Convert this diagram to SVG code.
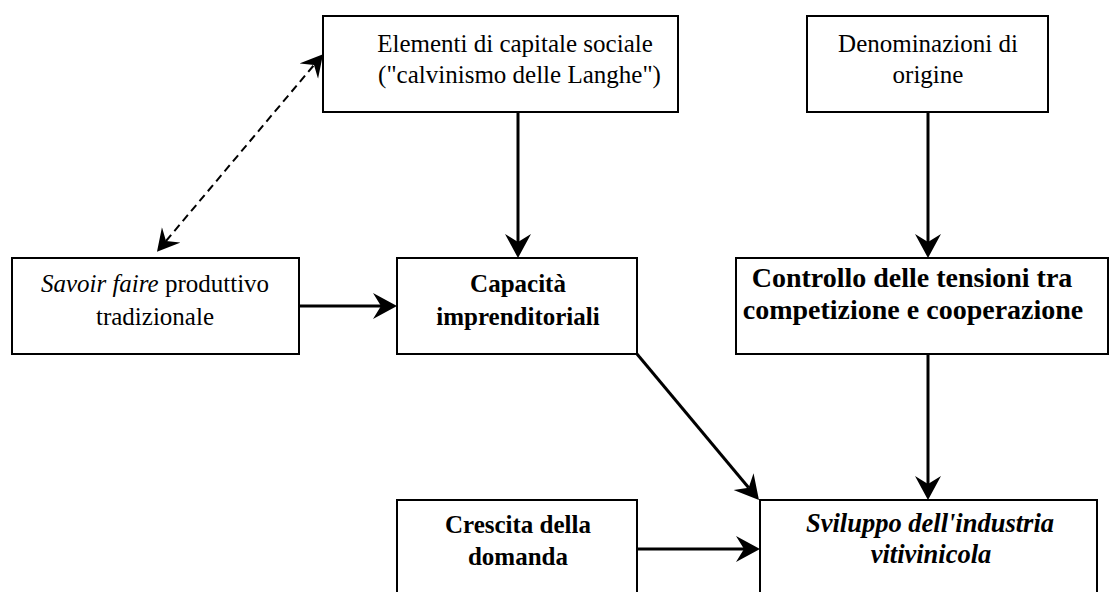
<svg xmlns="http://www.w3.org/2000/svg" width="1110" height="592" viewBox="0 0 1110 592">
<style>
.box{fill:#fff;stroke:#000;stroke-width:2}
.t{font-family:'Liberation Serif','Tinos','Times New Roman','DejaVu Serif',serif;font-size:25px;fill:#000;text-anchor:middle}
.b{font-weight:bold}
.i{font-style:italic}
.c{stroke:#000;stroke-width:3;fill:none}
.d{stroke:#000;stroke-width:2;fill:none;stroke-dasharray:8 5}
</style>
<defs>
<marker id="ah" markerUnits="userSpaceOnUse" markerWidth="26" markerHeight="28" refX="8" refY="13" orient="auto-start-reverse" viewBox="0 0 26 28">
<path d="M24,13 L0,0 L8,13 L0,26 Z" fill="#000"/>
</marker>
<marker id="ahs" markerUnits="userSpaceOnUse" markerWidth="26" markerHeight="28" refX="8" refY="12" orient="auto-start-reverse" viewBox="0 0 26 28">
<path d="M22,12 L0,0 L8,12 L0,24 Z" fill="#000"/>
</marker>
</defs>
<rect width="1110" height="592" fill="#fff"/>
<g font-family="Liberation Serif, Times New Roman, serif">
<g id="n-elementi">
<rect class="box" x="323" y="16" width="355" height="96"/>
<text class="t" x="515" y="52">Elementi di capitale sociale</text>
<text class="t" x="519.5" y="83">("calvinismo delle Langhe")</text>
</g>
<g id="n-denominazioni">
<rect class="box" x="807" y="16" width="241" height="96"/>
<text class="t" x="928" y="52">Denominazioni di</text>
<text class="t" x="928" y="83">origine</text>
</g>
<g id="n-savoir">
<rect class="box" x="12" y="258" width="287" height="96"/>
<text class="t" x="155" y="292"><tspan class="i">Savoir faire</tspan> produttivo</text>
<text class="t" x="155" y="325">tradizionale</text>
</g>
<g id="n-capacita">
<rect class="box" x="397" y="258" width="240" height="96"/>
<text class="t b" x="518" y="292">Capacità</text>
<text class="t b" x="518" y="325">imprenditoriali</text>
</g>
<g id="n-controllo">
<rect class="box" x="736" y="258" width="372" height="96"/>
<text class="t b" x="912" y="287" style="font-size:28px">Controllo delle tensioni tra</text>
<text class="t b" x="913" y="319" style="font-size:28px">competizione e cooperazione</text>
</g>
<g id="n-crescita">
<rect class="box" x="397" y="500" width="240" height="120"/>
<text class="t b" x="518" y="533">Crescita della</text>
<text class="t b" x="518" y="565">domanda</text>
</g>
<g id="n-sviluppo">
<rect class="box" x="760" y="500" width="337" height="120"/>
<text class="t b i" x="930" y="532" style="font-size:26.5px">Sviluppo dell'industria</text>
<text class="t b i" x="931" y="563" style="font-size:26.5px">vitivinicola</text>
</g>
</g>
<g id="connectors">
<line class="c" x1="518" y1="112" x2="518" y2="242" marker-end="url(#ah)"/>
<line class="c" x1="928" y1="112" x2="928" y2="242" marker-end="url(#ah)"/>
<line class="c" x1="299" y1="306" x2="381" y2="306" marker-end="url(#ah)"/>
<line class="c" x1="637" y1="354" x2="748.7" y2="487.7" marker-end="url(#ah)"/>
<line class="c" x1="928" y1="354" x2="928" y2="484" marker-end="url(#ah)"/>
<line class="c" x1="637" y1="549" x2="744" y2="549" marker-end="url(#ah)"/>
<line class="d" x1="166" y1="241" x2="314" y2="65" marker-start="url(#ahs)" marker-end="url(#ahs)"/>
</g>
</svg>
